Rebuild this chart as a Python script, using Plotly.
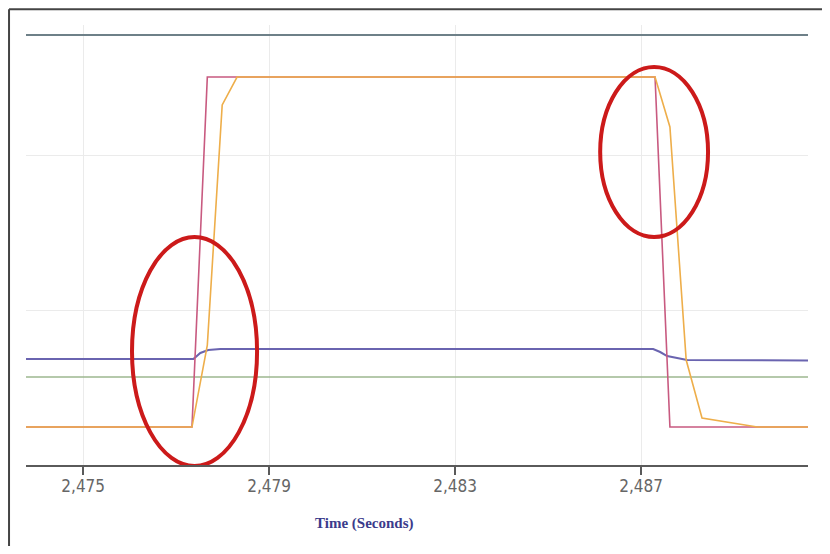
import plotly.graph_objects as go

# ---- data (time in seconds, signal in arbitrary units) ----
t_start, t_end = 2473.77, 2490.6

t_fast = [t_start, 2477.34, 2477.67, 2487.30, 2487.62, t_end]
v_fast = [0.245, 0.245, 2.503, 2.503, 0.245, 0.245]

t_slow = [t_start, 2477.34, 2477.67, 2477.99, 2478.31, 2487.30, 2487.62, 2487.97, 2488.31, 2489.50, t_end]
v_slow = [0.245, 0.245, 0.774, 2.323, 2.503, 2.503, 2.181, 0.677, 0.303, 0.245, 0.245]

t_purple = [t_start, 2477.37, 2477.52, 2477.69, 2477.95, 2487.26, 2487.41, 2487.56, 2487.99, t_end]
v_purple = [0.684, 0.684, 0.723, 0.742, 0.748, 0.748, 0.729, 0.703, 0.677, 0.674]

t_green = [t_start, t_end]
v_green = [0.568, 0.568]

t_top = [t_start, t_end]
v_top = [2.774, 2.774]

tick_vals = [2475, 2479, 2483, 2487]
tick_text = ["2,475", "2,479", "2,483", "2,487"]

# highlight ellipses: (t0, t1, v0, v1)
ellipses = [(2476.05, 2478.74, -0.006, 1.471),
            (2486.12, 2488.44, 1.471, 2.568)]

fig = go.Figure()
fig.add_trace(go.Scatter(x=t_top, y=v_top, mode="lines", line=dict(color="#6e8088", width=2)))
fig.add_trace(go.Scatter(x=t_green, y=v_green, mode="lines", line=dict(color="#9db78f", width=1.6)))
fig.add_trace(go.Scatter(x=t_purple, y=v_purple, mode="lines", line=dict(color="#6a64b0", width=2)))
fig.add_trace(go.Scatter(x=t_fast, y=v_fast, mode="lines", line=dict(color="#c85a80", width=1.6)))
fig.add_trace(go.Scatter(x=t_slow, y=v_slow, mode="lines", line=dict(color="#eeae4a", width=1.6)))

for (x0, x1, y0, y1) in ellipses:
    fig.add_shape(type="circle", xref="x", yref="y", x0=x0, x1=x1, y0=y0, y1=y1,
                  line=dict(color="#cc1a1a", width=4), layer="above")

# outer frame: left and top edges only
fig.add_shape(type="line", xref="paper", yref="paper", x0=-0.0217, x1=-0.0217, y0=-0.2, y1=1.036,
              line=dict(color="#444444", width=2), layer="below")
fig.add_shape(type="line", xref="paper", yref="paper", x0=-0.0217, x1=1.02, y0=1.036, y1=1.036,
              line=dict(color="#444444", width=2), layer="below")

fig.add_annotation(text="<b>Time (Seconds)</b>", xref="paper", yref="paper",
                   x=0.4316, y=-0.156, showarrow=False,
                   font=dict(family="Liberation Serif, Times New Roman, serif", size=15, color="#3b3b8c"))

fig.update_layout(
    width=814, height=538,
    margin=dict(l=18, r=14, t=17, b=81),
    paper_bgcolor="white", plot_bgcolor="white",
    showlegend=False,
    xaxis=dict(range=[t_start, 2490.59], tickvals=tick_vals, ticktext=tick_text,
               showgrid=True, gridcolor="#ebebeb", gridwidth=1,
               showline=True, linecolor="#5a5a5a", linewidth=2,
               ticks="outside", ticklen=8, tickcolor="#5a5a5a", tickwidth=1.5,
               ticklabelstandoff=-3,
               tickfont=dict(family="Liberation Sans Narrow, DejaVu Sans Condensed, Arial Narrow, sans-serif",
                             size=17, color="#666666"),
               zeroline=False),
    yaxis=dict(range=[0, 2.839], tickvals=[1, 2], showticklabels=False,
               showgrid=True, gridcolor="#ebebeb", gridwidth=1,
               showline=False, zeroline=False),
)

fig.write_html("out.html")
